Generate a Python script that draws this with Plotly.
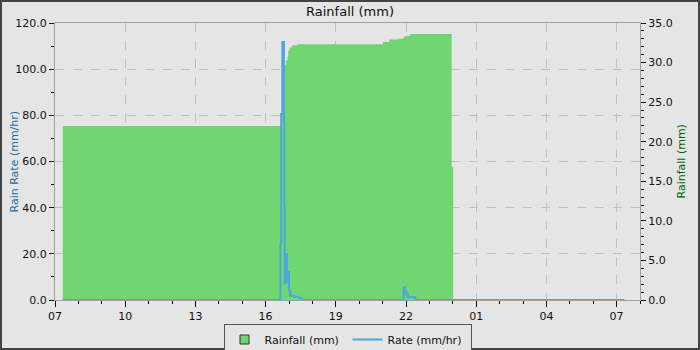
import plotly.graph_objects as go

DAY1 = "2024-05-01 "
DAY2 = "2024-05-02 "

# Cumulative rainfall (mm) step changes: start time -> value
rain_times = ["07:20", "16:42", "16:52", "16:56", "16:58", "17:01", "17:08", "17:22",
              "21:01", "21:17", "21:40", "21:54", "22:01", "22:11", "23:57"]
rain_values = [22.0, 29.7, 30.3, 30.7, 31.5, 31.9, 32.2, 32.3,
               32.6, 32.9, 33.0, 33.3, 33.4, 33.6, 16.8]
rain_end = DAY2 + "00:01"

# Rain rate (mm/hr) step changes
rate_times = ["07:20", "16:38", "16:40", "16:43", "16:47", "16:48", "16:49", "16:51",
              "16:53", "16:55", "16:57", "17:00", "17:03", "17:06", "17:12", "17:26",
              "17:32", "21:54", "21:58", "22:01", "22:05", "22:24"]
rate_values = [0.0, 24.2, 80.6, 111.8, 77.0, 40.9, 7.3, 17.0,
               19.9, 7.9, 12.1, 4.0, 2.0, 1.7, 1.4, 0.9,
               0.0, 5.5, 3.6, 2.5, 1.2, 0.0]
rate_end_time = DAY2 + "07:20"

GREEN = "#6fd672"
BLUE = "#4ea6de"
BG = "#e5e5e5"
FONT = "DejaVu Sans"

rx = [DAY1 + t for t in rain_times] + [rain_end]
ry = rain_values + [0.0]
qx = [DAY1 + t for t in rate_times] + [rate_end_time]
qy = rate_values + [0.0]

fig = go.Figure()
# rainfall on main y axis (right side), rate on overlaying y2 (left side) so it draws on top
fig.add_trace(go.Scatter(x=rx, y=ry, yaxis="y", mode="lines", line_shape="hv",
                         line=dict(width=0, color=GREEN), fill="tozeroy",
                         fillcolor=GREEN, showlegend=False, hoverinfo="skip"))
fig.add_trace(go.Scatter(x=[None], y=[None], yaxis="y", mode="markers",
                         marker=dict(symbol="square", size=9, color=GREEN,
                                     line=dict(color="#333333", width=1)),
                         name="Rainfall (mm)"))
fig.add_trace(go.Scatter(x=qx, y=qy, yaxis="y2", mode="lines", line_shape="hv",
                         line=dict(width=2, color=BLUE), name="Rate (mm/hr)"))

L, R, T, B = 55, 60, 23, 50
W, H = 700, 350
pw, ph = W - L - R, H - T - B

fig.update_layout(
    width=W, height=H,
    margin=dict(l=L, r=R, t=T, b=B, autoexpand=False),
    paper_bgcolor=BG, plot_bgcolor=BG,
    font=dict(family=FONT, size=11, color="#111111"),
    title=dict(text="Rainfall (mm)", x=0.5, xanchor="center", y=1 - 11 / H,
               yanchor="middle", yref="container", font=dict(size=13, color="#111111")),
    xaxis=dict(type="date", range=[DAY1 + "07:00", DAY2 + "08:00"],
               tick0=DAY1 + "07:00", dtick=3 * 3600 * 1000, tickformat="%H",
               ticks="outside", ticklen=6, tickcolor="#111111", automargin=False,
               showline=True, linecolor="#a0a0a0", linewidth=1, mirror=True,
               showgrid=True, gridcolor="#c0c0c0", griddash="dash", gridwidth=1,
               zeroline=False,
               minor=dict(dtick=3600 * 1000, ticks="outside", ticklen=3,
                          tickcolor="#111111", showgrid=False)),
    yaxis=dict(range=[0, 35], dtick=5, tickformat=".1f", side="right",
               ticks="outside", ticklen=5, tickcolor="#111111", automargin=False,
               showline=True, linecolor="#a0a0a0", linewidth=1,
               showgrid=False, zeroline=False,
               minor=dict(dtick=1, ticks="outside", ticklen=3, tickcolor="#111111",
                          showgrid=False)),
    yaxis2=dict(range=[0, 120], dtick=20, tickformat=".1f", overlaying="y", side="left",
                ticks="outside", ticklen=5, tickcolor="#111111", automargin=False,
                showline=True, linecolor="#a0a0a0", linewidth=1,
                showgrid=True, gridcolor="#c0c0c0", griddash="dash", gridwidth=1,
                zeroline=False,
                minor=dict(dtick=10, ticks="outside", ticklen=3, tickcolor="#111111",
                           showgrid=False)),
    legend=dict(orientation="h", x=0.5, xanchor="center", y=-24 / ph, yanchor="top",
                bgcolor=BG, bordercolor="#555555", borderwidth=1,
                font=dict(size=11, color="#111111"), itemwidth=30,
                entrywidth=78, entrywidthmode="pixels", traceorder="normal",
                tracegroupgap=0),
    annotations=[
        dict(text="Rain Rate (mm/hr)", xref="paper", yref="paper",
             x=(14 - L) / pw, y=0.5, textangle=-90, showarrow=False,
             xanchor="center", yanchor="middle", font=dict(color="#1d6fa5", size=11)),
        dict(text="Rainfall (mm)", xref="paper", yref="paper",
             x=(681 - L) / pw, y=0.5, textangle=-90, showarrow=False,
             xanchor="center", yanchor="middle", font=dict(color="#006400", size=11)),
    ],
    shapes=[dict(type="rect", xref="paper", yref="paper",
                 x0=(-L + 1) / pw, x1=(W - L - 1) / pw,
                 y0=(-B + 1) / ph, y1=(H - B - 1) / ph,
                 line=dict(color="#444444", width=2), layer="above")],
)

fig.write_html("out.html")
